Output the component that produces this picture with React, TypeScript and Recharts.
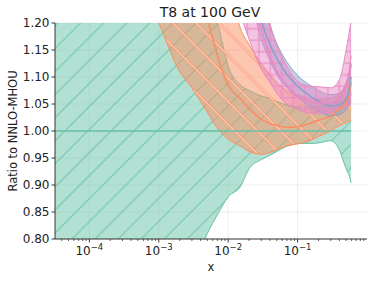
import React from 'react'
import {
  ComposedChart, Area, Line, XAxis, YAxis, CartesianGrid, Label,
} from 'recharts'

const FONT = '"DejaVu Sans", sans-serif'

// x grid (log scale)
const X = [3.2e-5, 1e-4, 1e-3, 2e-3, 3e-3, 4e-3, 5e-3, 7e-3, 1e-2, 1.5e-2, 2e-2, 3e-2, 4e-2, 5e-2, 7e-2, 0.1, 0.15, 0.2, 0.3, 0.4, 0.5, 0.55, 0.59]

// NNLO-MHOU (reference, green)
const GREEN_LO = [0.40, 0.45, 0.60, 0.69, 0.74, 0.78, 0.81, 0.845, 0.878, 0.897, 0.93, 0.947, 0.955, 0.962, 0.972, 0.977, 0.977, 0.978, 0.982, 0.965, 0.93, 0.918, 0.904]
const GREEN_MID = [1, 1, 1, 1, 1, 1, 1, 1, 1, 1, 1, 1, 1, 1, 1, 1, 1, 1, 1, 1, 1, 1, 1]
const GREEN_HI = [1.6, 1.55, 1.4, 1.32, 1.28, 1.26, 1.24, 1.2, 1.12, 1.085, 1.075, 1.065, 1.06, 1.055, 1.048, 1.045, 1.045, 1.045, 1.05, 1.055, 1.06, 1.062, 1.065]

// orange
const ORANGE_LO = [null, 1.45, 1.2, 1.11, 1.08, 1.055, 1.035, 1.005, 0.985, 0.972, 0.962, 0.957, 0.96, 0.965, 0.972, 0.976, 0.982, 0.99, 1.0, 1.01, 1.015, 1.018, 1.02]
const ORANGE_MID = [null, 1.9, 1.6, 1.42, 1.33, 1.26, 1.21, 1.14, 1.085, 1.06, 1.042, 1.022, 1.014, 1.01, 1.007, 1.008, 1.014, 1.02, 1.028, 1.042, 1.052, 1.066, 1.09]
const ORANGE_HI = [null, 2.1, 1.8, 1.6, 1.52, 1.46, 1.42, 1.35, 1.28, 1.19, 1.16, 1.125, 1.105, 1.09, 1.075, 1.067, 1.06, 1.058, 1.06, 1.07, 1.09, 1.11, 1.14]

// blue
const BLUE_LO = [null, null, null, null, null, null, null, null, 1.45, 1.33, 1.26, 1.17, 1.13, 1.105, 1.08, 1.062, 1.045, 1.036, 1.028, 1.03, 1.04, 1.05, 1.07]
const BLUE_MID = [null, null, null, null, null, null, null, null, 1.6, 1.42, 1.32, 1.205, 1.16, 1.135, 1.105, 1.083, 1.065, 1.055, 1.046, 1.048, 1.06, 1.075, 1.1]
const BLUE_HI = [null, null, null, null, null, null, null, null, 1.75, 1.52, 1.4, 1.26, 1.195, 1.162, 1.128, 1.103, 1.085, 1.075, 1.067, 1.07, 1.085, 1.1, 1.12]

// pink
const PINK_LO = [null, null, null, null, null, null, null, 1.5, 1.35, 1.22, 1.17, 1.115, 1.09, 1.07, 1.05, 1.04, 1.033, 1.032, 1.033, 1.04, 1.045, 1.048, 1.05]
const PINK_MID = [null, null, null, null, null, null, null, null, 1.6, 1.45, 1.32, 1.19, 1.14, 1.11, 1.085, 1.065, 1.055, 1.052, 1.052, 1.06, 1.085, 1.105, 1.125]
const PINK_HI = [null, null, null, null, null, null, null, null, 1.8, 1.6, 1.45, 1.3, 1.2, 1.16, 1.12, 1.092, 1.083, 1.082, 1.08, 1.095, 1.15, 1.18, 1.205]

const X_MAJOR = [1e-4, 1e-3, 1e-2, 1e-1]
const X_MINOR_MULT = [2, 3, 4, 5, 6, 7, 8, 9]
const X_TICKS = [4e-5, 5e-5, 6e-5, 7e-5, 8e-5, 9e-5]
  .concat(...X_MAJOR.map(d => [d, ...X_MINOR_MULT.map(m => m * d)]))
const Y_TICKS = [0.8, 0.85, 0.9, 0.95, 1.0, 1.05, 1.1, 1.15, 1.2]

const GREEN = '#66c2a5'
const ORANGE = '#fc8d62'
const BLUE = '#8da0cb'
const PINK = '#e78ac3'

const band = (lo: (number | null)[], hi: (number | null)[], i: number) =>
  lo[i] == null || hi[i] == null ? null : [lo[i], hi[i]]

const rows = X.map((x, i) => ({
  x,
  green: band(GREEN_LO, GREEN_HI, i),
  greenMid: GREEN_MID[i],
  orange: band(ORANGE_LO, ORANGE_HI, i),
  orangeMid: ORANGE_MID[i],
  blue: band(BLUE_LO, BLUE_HI, i),
  blueMid: BLUE_MID[i],
  pink: band(PINK_LO, PINK_HI, i),
  pinkMid: PINK_MID[i],
}))

function XTick(props: any) {
  const { x, y, payload } = props
  const lg = Math.log10(payload.value)
  const major = Math.abs(lg - Math.round(lg)) < 1e-6
  return (
    <g>
      <line x1={x} x2={x} y1={y} y2={y + (major ? 3.5 : 2)} stroke="#222" strokeWidth={major ? 0.9 : 0.7} />
      {major && (
        <text x={x} y={y + 16} textAnchor="middle" fontFamily={FONT} fontSize={12} fill="#222">
          10<tspan dy={-5} fontSize={8.5}>{'\u2212' + Math.abs(Math.round(lg))}</tspan>
        </text>
      )}
    </g>
  )
}

function Patterns() {
  return (
    <svg width={0} height={0} style={{ position: 'absolute' }}>
      <defs>
        <pattern id="hatchGreen" patternUnits="userSpaceOnUse" width={16.3} height={16.3} patternTransform="rotate(45)">
          <rect width={16.3} height={16.3} fill={GREEN} fillOpacity={0.5} />
          <line x1={8} y1={0} x2={8} y2={16.3} stroke="#5dbf9f" strokeWidth={0.8} />
        </pattern>
        <pattern id="hatchOrange" patternUnits="userSpaceOnUse" width={16.3} height={16.3} patternTransform="rotate(-45)">
          <rect width={16.3} height={16.3} fill={ORANGE} fillOpacity={0.5} />
          <line x1={8} y1={0} x2={8} y2={16.3} stroke={ORANGE} strokeWidth={2.4} />
          <line x1={8} y1={0} x2={8} y2={16.3} stroke="#ffe4d8" strokeWidth={0.9} />
        </pattern>
        <pattern id="hatchBlue" patternUnits="userSpaceOnUse" width={10} height={10}>
          <rect width={10} height={10} fill={BLUE} fillOpacity={0.5} />
        </pattern>
        <pattern id="hatchPink" patternUnits="userSpaceOnUse" width={11.5} height={11.5}>
          <rect width={11.5} height={11.5} fill={PINK} fillOpacity={0.5} />
          <line x1={5.75} y1={0} x2={5.75} y2={11.5} stroke={PINK} strokeWidth={1.1} />
          <line x1={0} y1={5.75} x2={11.5} y2={5.75} stroke={PINK} strokeWidth={1.1} />
        </pattern>
      </defs>
    </svg>
  )
}

export default function App() {
  return (
    <div style={{ position: 'absolute', left: 0, top: 0, width: 374, height: 281, background: '#fff' }}>
      <Patterns />
      <ComposedChart width={374} height={281} data={rows} margin={{ top: 23, right: 7, bottom: 12, left: 0 }}>
        <CartesianGrid stroke="#ebebeb" strokeWidth={0.8} verticalValues={X_MAJOR} horizontalValues={Y_TICKS} />
        <XAxis
          dataKey="x" type="number" scale="log" domain={[3.2e-5, 1]} allowDataOverflow
          ticks={X_TICKS} interval={0} tick={<XTick />} tickLine={false} tickSize={0} tickMargin={0}
          axisLine={{ stroke: '#222', strokeWidth: 0.9 }} height={30}
        >
          <Label content={() => (
            <text x={211} y={271} textAnchor="middle" fontFamily={FONT} fontSize={11.5} fill="#222">x</text>
          )} />
        </XAxis>
        <YAxis
          type="number" domain={[0.8, 1.2]} allowDataOverflow ticks={Y_TICKS} interval={0} width={55}
          tickFormatter={(v: number) => v.toFixed(2)}
          tick={{ fontSize: 12, fill: '#222', fontFamily: FONT }}
          tickSize={3.5} tickMargin={2} tickLine={{ stroke: '#222', strokeWidth: 0.9 }}
          axisLine={{ stroke: '#222', strokeWidth: 0.9 }}
        >
          <Label content={() => (
            <text transform="translate(13,131) rotate(-90)" textAnchor="middle" dominantBaseline="middle"
              fontFamily={FONT} fontSize={11.5} fill="#222">Ratio to NNLO-MHOU</text>
          )} />
        </YAxis>

        <Area dataKey="green" type="monotone" fill="url(#hatchGreen)" fillOpacity={1} stroke={GREEN} strokeWidth={1} dot={false} activeDot={false} isAnimationActive={false} />
        <Area dataKey="orange" type="monotone" fill="url(#hatchOrange)" fillOpacity={1} stroke={ORANGE} strokeWidth={1} dot={false} activeDot={false} isAnimationActive={false} />
        <Area dataKey="blue" type="monotone" fill="url(#hatchBlue)" fillOpacity={1} stroke={BLUE} strokeWidth={1} dot={false} activeDot={false} isAnimationActive={false} />
        <Area dataKey="pink" type="monotone" fill="url(#hatchPink)" fillOpacity={1} stroke={PINK} strokeWidth={1} dot={false} activeDot={false} isAnimationActive={false} />

        <Line dataKey="greenMid" type="monotone" stroke={GREEN} strokeWidth={1.6} dot={false} activeDot={false} isAnimationActive={false} />
        <Line dataKey="orangeMid" type="monotone" stroke={ORANGE} strokeWidth={1.6} dot={false} activeDot={false} isAnimationActive={false} />
        <Line dataKey="blueMid" type="monotone" stroke={BLUE} strokeWidth={1.6} dot={false} activeDot={false} isAnimationActive={false} />
        <Line dataKey="pinkMid" type="monotone" stroke={PINK} strokeWidth={1.6} dot={false} activeDot={false} isAnimationActive={false} />
      </ComposedChart>
      <svg width={374} height={281} style={{ position: 'absolute', left: 0, top: 0, pointerEvents: 'none' }}>
        <text x={210} y={17} textAnchor="middle" fontFamily={FONT} fontSize={14} fill="#222">T8 at 100 GeV</text>
      </svg>
    </div>
  )
}
